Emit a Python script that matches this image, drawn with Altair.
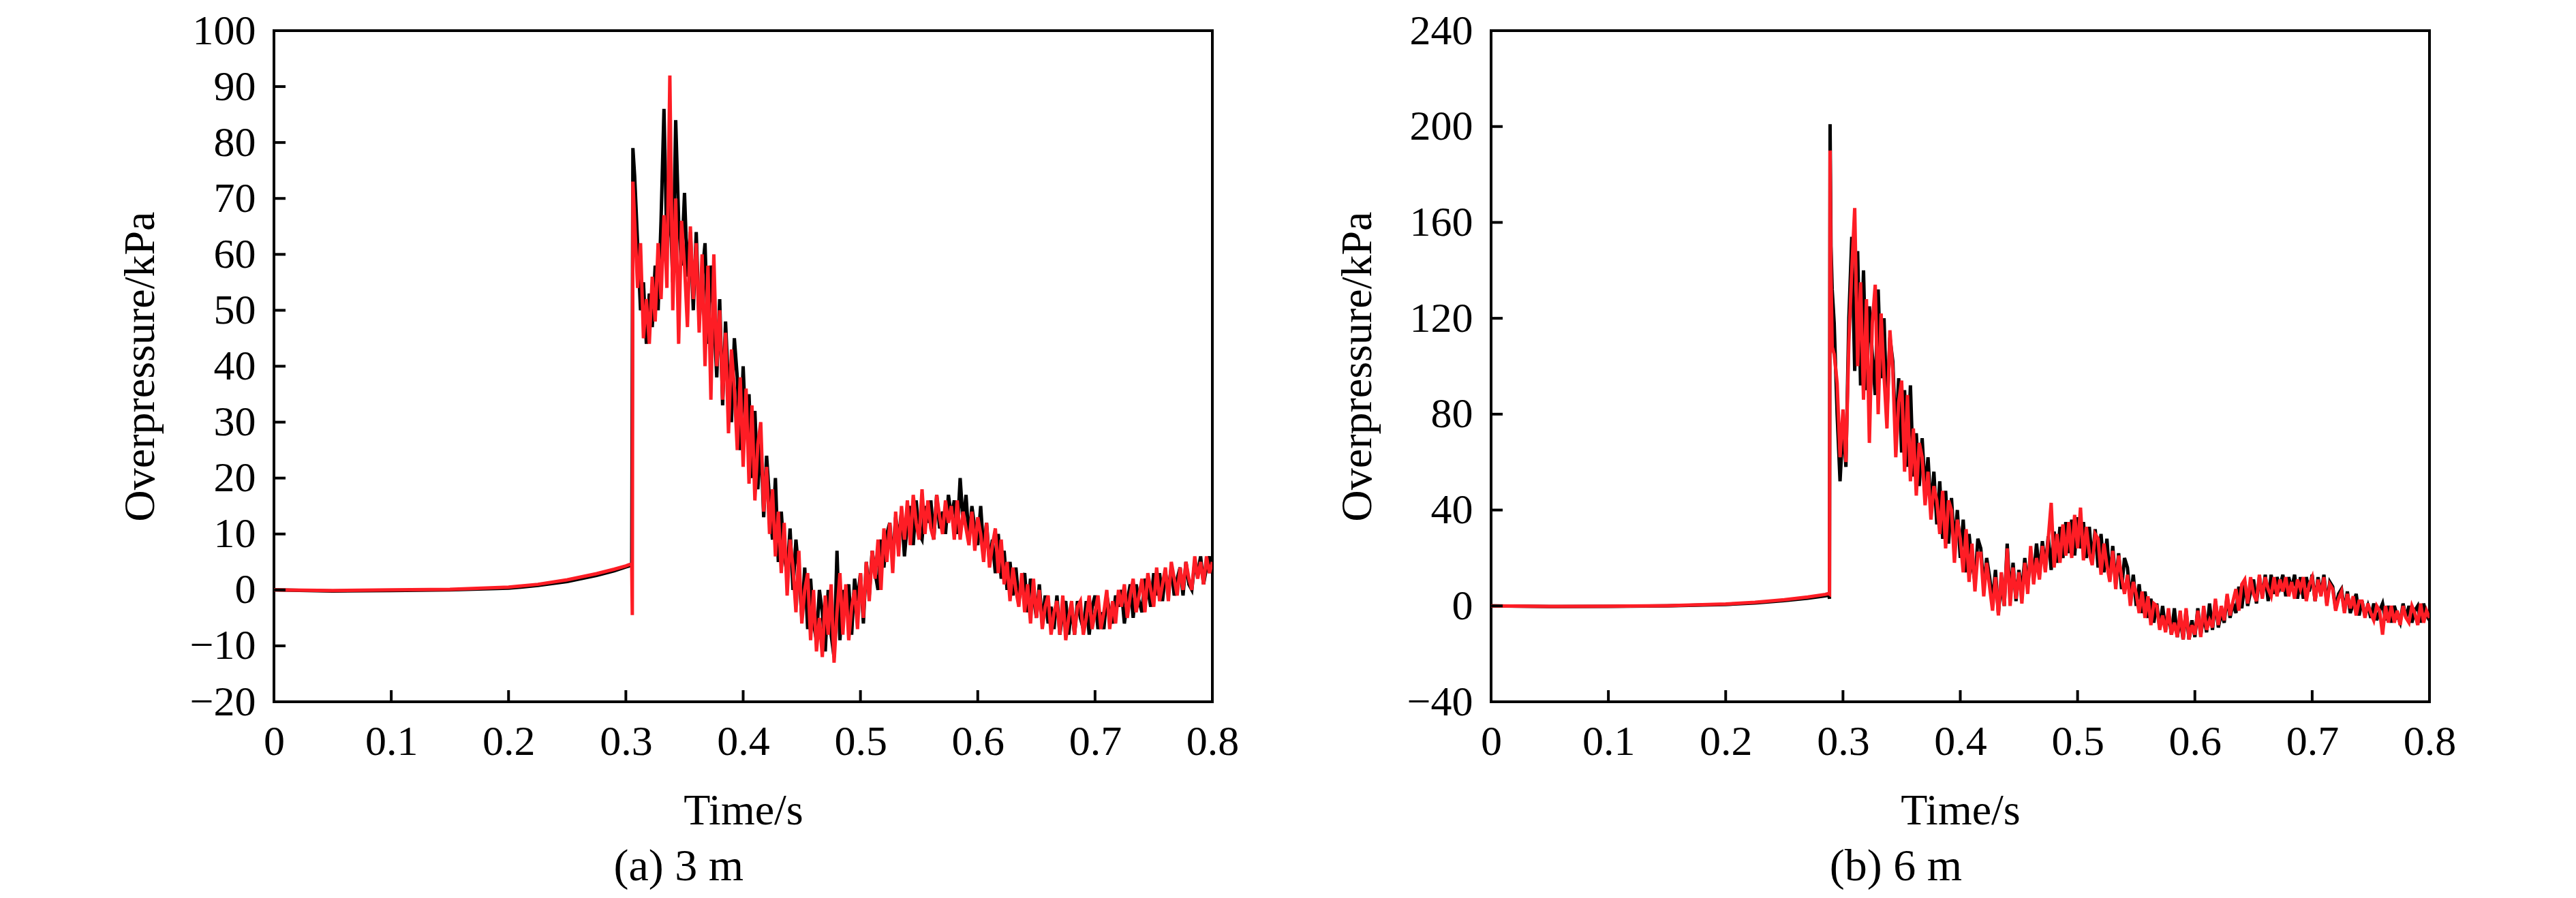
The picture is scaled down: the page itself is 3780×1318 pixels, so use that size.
import altair as alt
import numpy as np
import pandas as pd

FONT = "Liberation Serif"
BLACK = "#000000"
RED = "#fe1d25"
W, H = 1377, 985
STEP = 0.0025

# ---------------- panel (a) 3 m ----------------
A_CAPTION = "(a) 3 m"
A_X_TICKS = [0, 0.1, 0.2, 0.3, 0.4, 0.5, 0.6, 0.7, 0.8]
A_Y_TICKS = [-20, -10, 0, 10, 20, 30, 40, 50, 60, 70, 80, 90, 100]
A_Y_DOMAIN = [-20, 100]

A_PRE_T = [0, 0.05, 0.1, 0.15, 0.2, 0.225, 0.25, 0.275, 0.29, 0.3, 0.305]
A_BLACK_PRE = [0, -0.2, -0.1, 0, 0.3, 0.8, 1.5, 2.6, 3.4, 4.1, 4.4]
A_RED_PRE = [0, -0.1, 0, 0.1, 0.5, 1.0, 1.8, 2.9, 3.7, 4.3, 4.7]
A_BLACK_JUMP_T = [0.306]
A_BLACK_JUMP = [79]
A_RED_JUMP_T = [0.3055, 0.306]
A_RED_JUMP = [-4.5, 73]
A_NOISE_T0 = 0.3075
A_BLACK_NOISE = [
    74, 62, 50, 55, 44, 53, 47, 58, 50, 66,
    86, 61, 70, 55, 84, 66, 58, 71, 56, 64,
    50, 64, 48, 56, 62, 44, 58, 49, 38, 52,
    33, 48, 36, 30, 45, 38, 25, 40, 27, 35,
    20, 32, 18, 27, 13, 24, 16, 9, 20, 5,
    14, 6, 3, 11, 0, 9, 3, -5, 4, -7,
    2, -6, -9, 0, -4, -11, 0, -8, -12, 7,
    -9, 0, -4, 1, -8, 2, -2, 3, -6, 5,
    -1, 7, 3, 0, 9, 4, 10, 12, 5, 13,
    9, 14, 6, 12, 15, 8, 16, 10, 9, 15,
    12, 16, 9, 17, 11, 14, 10, 17, 13, 16,
    10, 20, 12, 17, 9, 15, 11, 8, 15, 7,
    12, 5, 9, 3, 10, 2, 7, 0, 5, -1,
    4, -2, 1, 3, -4, 2, -1, -5, 1, -6,
    -1, -6, -3, -7, -1, -8, -4, -2, -8, -3,
    -8, -2, -5, -7, -2, -8, -3, -1, -7, -4,
    -7, -1, -4, -6, -1, -3, 0, -6, -2, 1,
    -5, 1, -2, -4, 2, 0, -3, 3, -1, 3,
    -2, 3, 0, 4, -1, 2, 4, -1, 5, 1,
    0, 5, 3, 6, 1, 4, 6, 3,
]
A_RED_NOISE = [
    66, 54, 62, 45, 52, 44, 56, 48, 62, 52,
    67, 54, 92, 50, 70, 44, 66, 58, 47, 65,
    52, 62, 46, 60, 40, 58, 34, 60, 40, 50,
    34, 46, 28, 43, 36, 25, 38, 22, 36, 19,
    33, 16, 26, 30, 14, 22, 10, 18, 6, 14,
    3, 12, -1, 9, 4, -4, 7, -6, 0, 3,
    -9, 0, -11, -5, -12, -1, -8, 1, -13, -4,
    3, -8, 1, -9, -3, 0, -7, 3, -5, 5,
    -2, 7, 2, 9, 0, 11, 5, 12, 3, 14,
    6, 15, 9, 16, 8, 17, 12, 9, 18, 10,
    16, 11, 9, 17, 13, 10, 16, 12, 15, 9,
    16, 9, 14, 11, 8, 14, 7, 13, 10, 5,
    12, 4, 8, 11, 3, 9, 1, 5, -2, 4,
    0, -3, 3, -4, 1, -6, 2, -5, 0, -7,
    -3, -1, -8, -4, -2, -8, -1, -9, -5, -2,
    -8, -3, -2, -8, -5, -1, -7, -4, -1, -7,
    -4, 0, -7, -2, -6, 0, -3, 1, -5, -1,
    2, -4, -1, 2, -4, 3, 0, -3, 4, -2,
    1, 4, -2, 5, 2, -1, 4, 0, 5, 2,
    0, 6, 2, 5, 1, 6, 3, 5,
]

# ---------------- panel (b) 6 m ----------------
B_CAPTION = "(b) 6 m"
B_X_TICKS = [0, 0.1, 0.2, 0.3, 0.4, 0.5, 0.6, 0.7, 0.8]
B_Y_TICKS = [-40, 0, 40, 80, 120, 160, 200, 240]
B_Y_DOMAIN = [-40, 240]

B_PRE_T = [0, 0.05, 0.1, 0.15, 0.2, 0.225, 0.25, 0.27, 0.285, 0.288]
B_BLACK_PRE = [0, -0.3, -0.2, 0, 0.6, 1.2, 2.2, 3.2, 4.2, 4.5]
B_RED_PRE = [0, -0.2, -0.1, 0.1, 0.8, 1.5, 2.6, 3.7, 4.8, 5.2]
B_BLACK_JUMP_T = [0.2885, 0.289, 0.2898, 0.2908]
B_BLACK_JUMP = [3, 201, 150, 132]
B_RED_JUMP_T = [0.2885, 0.289, 0.2898, 0.2908]
B_RED_JUMP = [5, 190, 138, 108]
B_NOISE_T0 = 0.2925
B_BLACK_NOISE = [
    118, 80, 52, 75, 58, 120, 154, 98, 148, 92,
    140, 90, 125, 105, 88, 132, 95, 120, 80, 112,
    102, 70, 95, 64, 90, 58, 92, 54, 72, 50,
    70, 48, 62, 40, 56, 34, 52, 28, 48, 26,
    45, 25, 40, 20, 36, 14, 30, 18, 10, 28,
    24, 8, 20, 12, 2, 15, -3, 10, 0, 26,
    4, 18, 2, 15, 6, 20, 8, 22, 12, 26,
    14, 27, 16, 29, 15, 31, 18, 33, 20, 35,
    22, 36, 21, 37, 24, 35, 20, 33, 18, 32,
    16, 30, 14, 28, 11, 25, 9, 22, 7, 20,
    16, 3, 13, 0, 9, -3, 6, -5, 3, -7,
    1, -9, 0, -10, -3, -12, -1, -13, -5, -14,
    -2, -14, -6, -13, -1, -12, -4, -11, 1, -10,
    2, -9, -3, -7, 4, -5, 1, -3, 8, -1,
    10, 0, 6, 11, 1, 12, 4, 13, 2, 13,
    5, 12, 8, 13, 4, 12, 7, 13, 3, 12,
    3, 12, 6, 13, 2, 12, 5, 13, 1, 10,
    8, -1, 5, 7, -2, 6, -3, 1, 5, -4,
    2, -4, 0, -5, 1, -6, -2, 1, -6, 0,
    -7, 0, -4, -7, 1, -5, 0, -7, -2, 0,
    -7, 1, -4, -6,
]
B_RED_NOISE = [
    105, 93, 62, 82, 60, 110, 140, 166, 100, 135,
    86, 128, 68, 118, 134, 80, 122, 96, 74, 115,
    98, 62, 85, 94, 56, 88, 52, 74, 46, 68,
    62, 42, 56, 36, 50, 44, 30, 48, 24, 44,
    40, 18, 36, 28, 14, 32, 10, 26, 6, 22,
    22, 4, 18, 8, -2, 12, -4, 14, 0, 24,
    0, 16, 3, 14, 1, 18, 5, 25, 9, 20,
    11, 25, 14, 28, 43, 16, 30, 18, 34, 21,
    35, 20, 38, 24, 41, 19, 33, 22, 17, 30,
    28, 13, 26, 17, 10, 23, 7, 21, 12, 5,
    13, 0, 10, 5, -3, 6, -5, 4, -8, 1,
    0, -10, -4, -11, -1, -12, -7, -13, -2, -14,
    -1, -14, -8, -12, -2, -13, 0, -10, -6, -9,
    3, -8, 0, -6, 5, -4, 2, 7, -2, 9,
    11, 1, 12, 5, 2, 13, 3, 12, 7, 4,
    12, 4, 11, 6, 12, 4, 10, 3, 11, 7,
    12, 2, 9, 12, 2, 11, 4, 12, 0, 9,
    7, -2, 3, 6, -3, 5, -1, 4, -4, 2,
    2, -5, 1, -3, -6, 0, -2, -12, 0, -7,
    0, -7, -2, -8, 0, -5, -7, 0, -3, -8,
    1, -7, -2, -5,
]


def series_df(pre_t, pre_v, jump_t, jump_v, t0, noise_v):
    noise_t = [round(t0 + i * STEP, 5) for i in range(len(noise_v))]
    return pd.DataFrame({
        "t": list(pre_t) + list(jump_t) + noise_t,
        "p": list(pre_v) + list(jump_v) + list(noise_v),
    })


def panel(df_black, df_red, xt, yt, ydom, caption):
    x = alt.X("t:Q", scale=alt.Scale(domain=[0, 0.8], nice=False, zero=False),
              axis=alt.Axis(values=xt, format="~g", title="Time/s",
                            labelPadding=28, titlePadding=39))
    y = alt.Y("p:Q", scale=alt.Scale(domain=ydom, nice=False, zero=False),
              axis=alt.Axis(values=yt, format="d", title="Overpressure/kPa",
                            labelPadding=27, titlePadding=40))
    black = alt.Chart(df_black).mark_line(color=BLACK, strokeWidth=5, clip=True,
                                          strokeJoin="miter").encode(x=x, y=y)
    red = alt.Chart(df_red).mark_line(color=RED, strokeWidth=5, clip=True,
                                      strokeJoin="miter").encode(x=x, y=y)
    xticks = alt.Chart(pd.DataFrame({"t": xt})).mark_rule(color="black", strokeWidth=4).encode(
        x=x, y=alt.value(H), y2=alt.value(H - 17))
    yticks = alt.Chart(pd.DataFrame({"p": yt})).mark_rule(color="black", strokeWidth=4).encode(
        y=y, x=alt.value(0), x2=alt.value(17))
    return alt.layer(black, red, xticks, yticks).properties(
        width=W, height=H,
        title=alt.TitleParams(caption, orient="bottom", frame="bounds", anchor="middle",
                              font=FONT, fontSize=66, fontWeight="normal", color="black", offset=18),
    )


a = panel(series_df(A_PRE_T, A_BLACK_PRE, A_BLACK_JUMP_T, A_BLACK_JUMP, A_NOISE_T0, A_BLACK_NOISE),
          series_df(A_PRE_T, A_RED_PRE, A_RED_JUMP_T, A_RED_JUMP, A_NOISE_T0, A_RED_NOISE),
          A_X_TICKS, A_Y_TICKS, A_Y_DOMAIN, A_CAPTION)
b = panel(series_df(B_PRE_T, B_BLACK_PRE, B_BLACK_JUMP_T, B_BLACK_JUMP, B_NOISE_T0, B_BLACK_NOISE),
          series_df(B_PRE_T, B_RED_PRE, B_RED_JUMP_T, B_RED_JUMP, B_NOISE_T0, B_RED_NOISE),
          B_X_TICKS, B_Y_TICKS, B_Y_DOMAIN, B_CAPTION)

chart = alt.hconcat(a, b, spacing=138).properties(
    padding={"left": 164, "top": 4, "right": 5, "bottom": 0},
    background="white",
).configure_view(
    stroke="black", strokeWidth=4
).configure_axis(
    labelFont=FONT, labelFontSize=62, labelColor="black",
    titleFont=FONT, titleFontSize=64, titleFontWeight="normal", titleColor="black",
    ticks=False, domain=False, grid=False, labelFlush=False, labelOverlap=False,
)

chart.save("out.html", embed_options={"renderer": "svg", "actions": False})
